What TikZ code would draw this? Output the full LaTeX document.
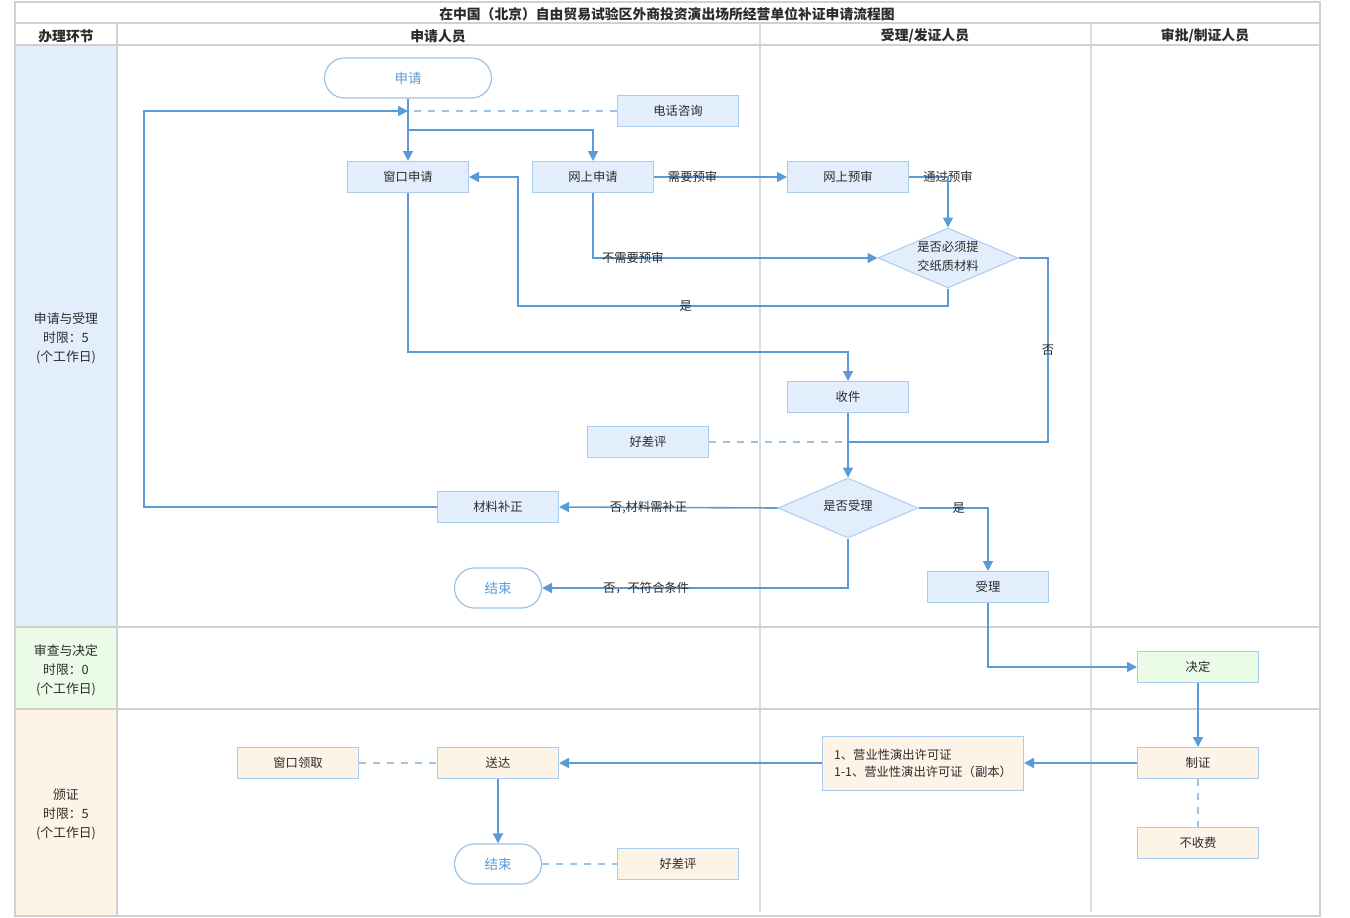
\documentclass[tikz,border=0pt]{standalone}
\usepackage{fontspec}
\setmainfont{Noto Sans CJK SC}
\usetikzlibrary{arrows.meta,shapes.geometric}
\definecolor{frameg}{HTML}{D0D0D0}
\definecolor{colg}{HTML}{DDDDDD}
\definecolor{lnblue}{HTML}{5B9BD5}
\definecolor{dshblue}{HTML}{9DC3E6}
\definecolor{boxln}{HTML}{A9CCEE}
\definecolor{bluefill}{HTML}{E3EEFD}
\definecolor{greenfill}{HTML}{EAFCE7}
\definecolor{orangefill}{HTML}{FEF3E7}
\definecolor{txt}{HTML}{2B2B2B}
\begin{document}
\begin{tikzpicture}[x=1pt,y=-1pt,
  every node/.style={text=txt,font=\fontsize{12.3}{14}\selectfont},
  box/.style={draw=boxln,line width=1pt,fill=bluefill,minimum width=121pt,minimum height=31pt,inner sep=0pt},
  obox/.style={box,fill=orangefill},
  gbox/.style={box,fill=greenfill},
  term/.style={draw=dshblue,line width=1.2pt,fill=white,rounded corners=20pt,minimum height=40pt,inner sep=0pt,text=lnblue,font=\fontsize{13.5}{15}\selectfont},
  dia/.style={diamond,draw=boxln,line width=1pt,fill=bluefill,minimum width=140pt,minimum height=60pt,inner sep=0pt},
  ln/.style={draw=lnblue,line width=1.6pt},
  arr/.style={ln,-{Triangle[length=10pt,width=10pt]}},
  dsh/.style={draw=dshblue,line width=1.5pt,dash pattern=on 7pt off 7pt},
  lab/.style={inner sep=0pt,font=\fontsize{12.3}{14}\selectfont},
  hdr/.style={font=\bfseries\fontsize{13.8}{15}\selectfont},
  lane/.style={align=center,font=\fontsize{12.8}{19}\selectfont}
]
\useasboundingbox (0,0) rectangle (1350,918);
% lane fills
\fill[bluefill] (15,45) rectangle (117,627);
\fill[greenfill] (15,627) rectangle (117,709);
\fill[orangefill] (15,709) rectangle (117,916);
% frame
\draw[colg,line width=1.2pt] (760,23) -- (760,912);
\draw[colg,line width=1.2pt] (1091,23) -- (1091,912);
\draw[frameg,line width=2pt] (15,2) rectangle (1320,916);
\draw[frameg,line width=2pt] (15,23) -- (1320,23);
\draw[frameg,line width=2pt] (15,45) -- (1320,45);
\draw[frameg,line width=2pt] (15,627) -- (1320,627);
\draw[frameg,line width=2pt] (15,709) -- (1320,709);
\draw[frameg,line width=2pt] (117,23) -- (117,916);
% headers
\node[hdr] (title) at (667,14) {在中国（北京）自由贸易试验区外商投资演出场所经营单位补证申请流程图};
\node[hdr] (h0) at (66,36) {办理环节};
\node[hdr] (h1) at (438,36) {申请人员};
\node[hdr] (h2) at (925,36) {受理/发证人员};
\node[hdr] (h3) at (1205,36) {审批/制证人员};
\node[lane] (l1) at (66,338) {申请与受理\\时限：5\\(个工作日)};
\node[lane] (l2) at (66,670) {审查与决定\\时限：0\\(个工作日)};
\node[lane] (l3) at (66,814) {颁证\\时限：5\\(个工作日)};
% nodes
\node[term,minimum width=167pt] (s) at (408,78) {申请};
\node[box] (tel) at (678,111) {电话咨询};
\node[box] (wk) at (408,177) {窗口申请};
\node[box] (ws) at (593,177) {网上申请};
\node[box] (wy) at (848,177) {网上预审};
\node[dia] (d1) at (948,258) {};
\node[align=center,font=\fontsize{12.3}{19}\selectfont] (d1t) at (948,256) {是否必须提\\交纸质材料};
\node[box] (sj) at (848,397) {收件};
\node[box] (hp1) at (648,442) {好差评};
\node[dia] (d2) at (848,508) {};
\node (d2t) at (848,506) {是否受理};
\node[box] (bz) at (498,507) {材料补正};
\node[term,minimum width=87pt] (end1) at (498,588) {结束};
\node[box] (sl) at (988,587) {受理};
\node[gbox] (jd) at (1198,667) {决定};
\node[obox] (zz) at (1198,763) {制证};
\node[obox] (bsf) at (1198,843) {不收费};
\node[obox,minimum width=201pt,minimum height=54pt,align=left,font=\fontsize{12.3}{17}\selectfont] (zs) at (923,763) {1、营业性演出许可证\\1-1、营业性演出许可证（副本）};
\node[obox] (sd) at (498,763) {送达};
\node[obox] (lq) at (298,763) {窗口领取};
\node[term,minimum width=87pt] (end2) at (498,864) {结束};
\node[obox] (hp2) at (678,864) {好差评};
% coordinates
\coordinate (br1) at (408,130);
\coordinate (lp) at (144,507);
\coordinate (c8a) at (948,306);
\coordinate (c8b) at (518,306);
\coordinate (c9) at (408,352);
\coordinate (c10) at (1048,442);
% connectors
\draw[arr] (s.south) -- (wk.north);
\draw[arr] (br1) -| (ws.north);
\draw[dsh] (tel.west) -- (s.south |- tel.west);
\draw[arr] (bz.west) -- (lp) |- (s.south |- tel.west);
\draw[arr] (ws.east) -- node[lab,pos=0.29]{需要预审} (wy.west);
\draw[arr] (wy.east) -| node[lab,pos=0.5]{通过预审} (d1.north);
\draw[arr] (ws.south) |- node[lab,pos=0.57]{不需要预审} (d1.west);
\draw[arr] (d1.south) -- (c8a) -- node[lab,pos=0.61]{是} (c8b) |- (wk.east);
\draw[arr] (wk.south) -- (c9) -| (sj.north);
\draw[ln] (d1.east) -| node[lab,pos=0.75]{否} (c10) -- (sj.south |- c10);
\draw[arr] (sj.south) -- (d2.north);
\draw[dsh] (hp1.east) -- (sj.south |- hp1.east);
\draw[arr] (d2.west) -- node[lab,pos=0.59]{否,材料需补正} (bz.east);
\draw[arr] (d2.south) |- node[lab,pos=0.83]{否，不符合条件} (end1.east);
\draw[arr] (d2.east) -| node[lab,pos=0.29]{是} (sl.north);
\draw[arr] (sl.south) |- (jd.west);
\draw[arr] (jd.south) -- (zz.north);
\draw[arr] (zz.west) -- (zs.east);
\draw[arr] (zs.west) -- (sd.east);
\draw[dsh] (lq.east) -- (sd.west);
\draw[arr] (sd.south) -- (end2.north);
\draw[dsh] (end2.east) -- (hp2.west);
\draw[dsh] (zz.south) -- (bsf.north);
\end{tikzpicture}
\end{document}
